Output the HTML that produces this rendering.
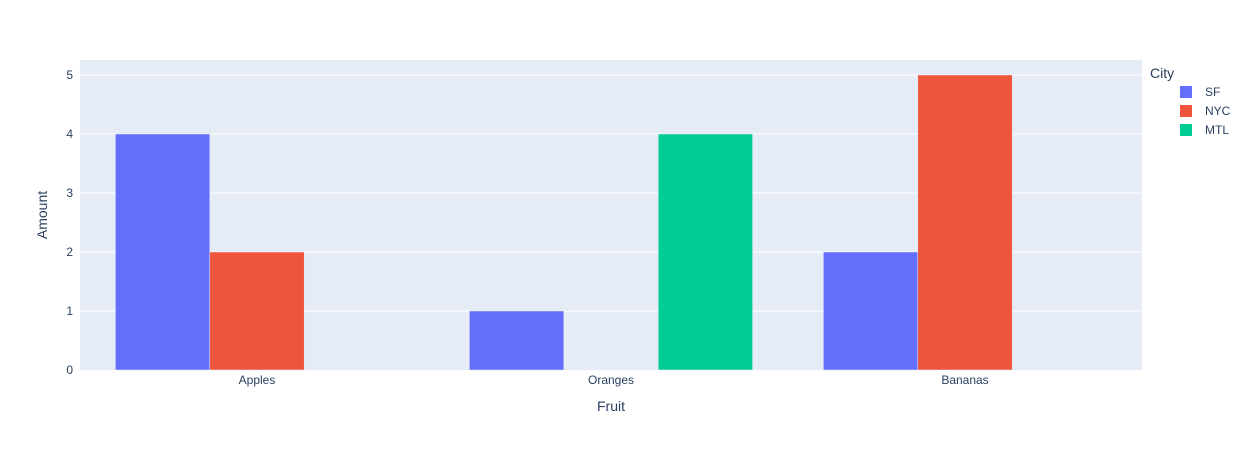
<!DOCTYPE html>
<html><head><meta charset="utf-8"><style>
body{margin:0;background:#fff;font-family:"Liberation Sans",Arial,sans-serif}
svg text{font-family:"Liberation Sans",Arial,sans-serif;fill:#2a3f5f}
</style></head><body>
<svg id="chart" width="1247" height="450" xmlns="http://www.w3.org/2000/svg">
<rect x="0" y="0" width="1247" height="450" fill="#fff"/>
<rect x="80" y="60" width="1062" height="310" fill="#e5ecf6"/>
<g id="grid"></g><g id="bars"></g><g id="ticks"></g>
<text x="611" y="411" font-size="14" text-anchor="middle">Fruit</text>
<text transform="translate(47,215) rotate(-90)" font-size="14" text-anchor="middle">Amount</text>
<g id="legend"><text x="1150" y="78" font-size="14">City</text></g>
</svg>
<script>
const categories=["Apples","Oranges","Bananas"];
const seriesNames=["SF","NYC","MTL"];
const sfValues=[4,1,2];
const nycValues=[2,0,5];
const mtlValues=[0,4,0];
const yTicks=[0,1,2,3,4,5];
const colors=["#636efa","#EF553B","#00cc96"];
const series=[sfValues,nycValues,mtlValues];
const NS="http://www.w3.org/2000/svg";
const L=80,R=1142,B=370,unit=59;
const y=v=>B-v*unit;
const band=(R-L)/categories.length;
const xc=i=>L+band*(i+0.5);
function mk(tag,attrs,parent,txt){const e=document.createElementNS(NS,tag);for(const k in attrs)e.setAttribute(k,attrs[k]);if(txt!==undefined)e.textContent=txt;document.getElementById(parent).appendChild(e);return e;}
yTicks.forEach(t=>{
 if(t>0){const g=mk('line',{x1:L,x2:R,y1:y(t),y2:y(t),stroke:'#fff','stroke-width':1},'grid');
 
 }
 const tx=mk('text',{x:73,y:y(t)+4,'font-size':12,'text-anchor':'end'},'ticks',String(t));
 
 
});
const bw=band*0.8/series.length;
categories.forEach((c,i)=>{
 const tx=mk('text',{x:xc(i),y:384,'font-size':12,'text-anchor':'middle'},'ticks',c);
 
 
 series.forEach((s,j)=>{
  const x0=xc(i)-band*0.4+j*bw;
  const r=mk('rect',{x:x0,y:y(s[i]),width:bw,height:s[i]*unit,fill:colors[j],stroke:'#e5ecf6','stroke-width':0.5},'bars');
  
  
 });
});
seriesNames.forEach((n,j)=>{
 const yy=92+j*19;
 const sw=mk('rect',{x:1180,y:yy-6,width:12,height:12,fill:colors[j]},'legend');
 
 
 const t=mk('text',{x:1205,y:yy+4,'font-size':12},'legend',n);
 
 
});
</script>
</body></html>
